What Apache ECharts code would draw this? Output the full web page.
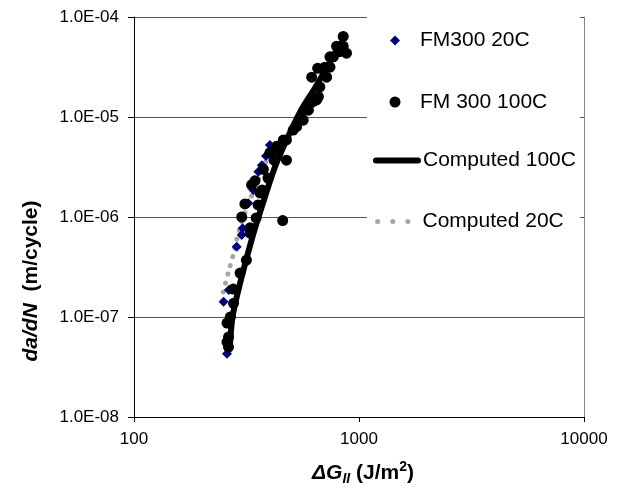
<!DOCTYPE html>
<html>
<head>
<meta charset="utf-8">
<script src="https://cdn.jsdelivr.net/npm/echarts@6/dist/echarts.min.js"></script>
<style>
html,body{margin:0;padding:0;background:#fff;}
#chart{width:624px;height:488px;}
</style>
</head>
<body>
<div id="chart"></div>
<script>
// ---- data ----
const seriesNames = ['FM300 20C', 'FM 300 100C', 'Computed 100C', 'Computed 20C'];

const fm300_20C = [
  [259, 4.3e-8], [250, 1.42e-7], [264, 1.86e-7], [286, 5.05e-7], [301, 6.6e-7],
  [304, 7.7e-7], [322, 1.37e-6], [339, 1.86e-6], [357, 2.84e-6], [370, 3.3e-6],
  [386, 4.07e-6], [402, 5.25e-6]
];

const fm300_100C = [
  [263, 5.0e-8], [259, 5.6e-8], [263, 6.3e-8], [259, 8.7e-8], [268, 1.0e-7],
  [277, 1.37e-7], [276, 1.9e-7], [296, 2.75e-7], [316, 3.7e-7], [328, 6.9e-7],
  [328, 7.8e-7], [349, 9.8e-7], [356, 1.32e-6], [371, 1.86e-6], [394, 2.45e-6],
  [419, 3.7e-6],
  [301, 1.0e-6], [311, 1.35e-6], [363, 1.74e-6], [333, 2.1e-6], [345, 2.3e-6],
  [376, 3.0e-6], [476, 3.7e-6], [402, 4.4e-6], [431, 4.7e-6], [431, 5.1e-6],
  [461, 5.9e-6], [476, 5.9e-6], [458, 9.2e-7], [510, 7.4e-6], [528, 8.0e-6],
  [565, 9.3e-6], [575, 1.17e-5], [596, 1.17e-5], [606, 1.37e-5], [626, 1.43e-5],
  [648, 1.48e-5], [660, 1.6e-5], [670, 2.0e-5], [616, 2.5e-5], [655, 3.07e-5],
  [705, 3.15e-5], [718, 2.5e-5], [743, 3.15e-5], [743, 4.0e-5], [769, 4.0e-5],
  [795, 5.1e-5], [820, 4.5e-5], [851, 6.4e-5], [851, 5.1e-5], [880, 4.35e-5]
];

const computed100C = [
  [267, 5.25e-8], [274, 1.0e-7], [291, 1.86e-7], [315, 3.72e-7], [343, 7.4e-7],
  [378, 1.48e-6], [423, 3.16e-6], [474, 5.75e-6], [547, 1.12e-5], [637, 1.95e-5],
  [743, 3.55e-5], [840, 5.6e-5]
];

const computed20C = [
  [249.5, 1.78e-7], [262, 2.75e-7], [276, 4.2e-7], [286, 5.9e-7], [311, 1.1e-6],
  [363, 2.6e-6], [423, 5.9e-6]
];

const xTickVals = [100, 1000, 10000];
const xTickLabels = ['100', '1000', '10000'];
const yTickVals = [1e-8, 1e-7, 1e-6, 1e-5, 1e-4];
const yTickLabels = ['1.0E-08', '1.0E-07', '1.0E-06', '1.0E-05', '1.0E-04'];

// ---- chart ----
const FONT = "'Liberation Sans', Arial, sans-serif";
function pickLabel(vals, labels, v) {
  const i = vals.findIndex(t => Math.abs(Math.log10(t) - Math.log10(v)) < 1e-6);
  return i >= 0 ? labels[i] : '';
}

const chart = echarts.init(document.getElementById('chart'), null, {renderer: 'canvas'});

function legendFor(name, left, top, w, h, textPad, extra) {
  return Object.assign({
    data: [name], left: left, top: top, orient: 'vertical', padding: 0,
    itemWidth: w, itemHeight: h, selectedMode: false,
    textStyle: {fontSize: 21, fontFamily: FONT, color: '#000', padding: [0, 0, 0, textPad]}
  }, extra || {});
}

const option = {
  backgroundColor: '#fff',
  animation: false,
  grid: {left: 134, top: 17, right: 40, bottom: 71, containLabel: false},
  xAxis: {
    type: 'log', logBase: 10, min: 100, max: 10000,
    axisLine: {show: true, onZero: false, lineStyle: {color: '#000', width: 1}},
    axisTick: {show: true, length: 5, lineStyle: {color: '#000'}},
    minorTick: {show: false},
    splitLine: {show: false},
    axisLabel: {
      margin: 14, fontSize: 17, fontFamily: FONT, color: '#000',
      formatter: v => pickLabel(xTickVals, xTickLabels, v)
    }
  },
  yAxis: [{
    type: 'log', logBase: 10, min: 1e-8, max: 1e-4,
    axisLine: {show: true, onZero: false, lineStyle: {color: '#000', width: 1}},
    axisTick: {show: true, length: 6, lineStyle: {color: '#000'}},
    splitLine: {show: true, lineStyle: {color: '#555', width: 1}},
    axisLabel: {
      margin: 15, fontSize: 17, fontFamily: FONT, color: '#000',
      formatter: v => pickLabel(yTickVals, yTickLabels, v)
    }
  }, {
    type: 'log', logBase: 10, min: 1e-8, max: 1e-4, position: 'right',
    axisLine: {show: true, onZero: false, lineStyle: {color: '#888', width: 1}},
    axisTick: {show: false}, axisLabel: {show: false}, splitLine: {show: false}
  }],
  graphic: [
    {type: 'rect', z: 1, shape: {x: 367, y: 4, width: 213, height: 242}, style: {fill: '#fff'}},
    {
      type: 'text', x: 31, y: 281, rotation: Math.PI / 2, z: 5,
      style: {
        text: '{it|da/dN}{b|  (m/cycle)}', align: 'center', verticalAlign: 'middle',
        rich: {
          it: {fontSize: 21, fontWeight: 'bold', fontStyle: 'italic', fontFamily: FONT, fill: '#000'},
          b: {fontSize: 21, fontWeight: 'bold', fontFamily: FONT, fill: '#000'}
        }
      }
    },
    {
      type: 'text', x: 363, y: 473, z: 5,
      style: {
        text: '{it|ΔG}{sub|II}{b| (J/m}{sup|2}{b|)}', align: 'center', verticalAlign: 'middle',
        rich: {
          it: {fontSize: 21, fontWeight: 'bold', fontStyle: 'italic', fontFamily: FONT, fill: '#000', lineHeight: 26, verticalAlign: 'middle'},
          sub: {fontSize: 14, fontWeight: 'bold', fontStyle: 'italic', fontFamily: FONT, fill: '#000', lineHeight: 12, verticalAlign: 'bottom'},
          sup: {fontSize: 14, fontWeight: 'bold', fontFamily: FONT, fill: '#000', lineHeight: 14, verticalAlign: 'top'},
          b: {fontSize: 21, fontWeight: 'bold', fontFamily: FONT, fill: '#000', lineHeight: 26, verticalAlign: 'middle'}
        }
      }
    }
  ],
  legend: [
    legendFor(seriesNames[0], 390, 30, 10, 10, 15),
    legendFor(seriesNames[1], 389.5, 91.5, 11, 11, 14.5),
    legendFor(seriesNames[2], 373, 150, 42, 14, 0,
      {lineStyle: {width: 6, cap: 'round'}, itemStyle: {opacity: 0}}),
    legendFor(seriesNames[3], 373, 211, 42, 14, 0,
      {lineStyle: {width: 5, type: [0.1, 15], cap: 'round', dashOffset: 13}, itemStyle: {opacity: 0}})
  ],
  series: [
    {
      name: seriesNames[0], type: 'scatter', data: fm300_20C, z: 3,
      symbol: 'diamond', symbolSize: 10,
      itemStyle: {color: '#000080', opacity: 1}
    },
    {
      name: seriesNames[1], type: 'scatter', data: fm300_100C, z: 4,
      symbol: 'circle', symbolSize: 11,
      itemStyle: {color: '#000', opacity: 1}
    },
    {
      name: seriesNames[2], type: 'line', data: computed100C, z: 5,
      symbol: 'none', showSymbol: false, smooth: 0.3,
      itemStyle: {color: '#000'},
      lineStyle: {color: '#000', width: 6, cap: 'round', join: 'round'}
    },
    {
      name: seriesNames[3], type: 'line', data: computed20C, z: 2,
      symbol: 'none', showSymbol: false, smooth: 0.3,
      itemStyle: {color: '#A6A6A6'},
      lineStyle: {color: '#A6A6A6', width: 5, type: [0.1, 9], cap: 'round'}
    }
  ]
};
chart.setOption(option);
</script>
</body>
</html>
